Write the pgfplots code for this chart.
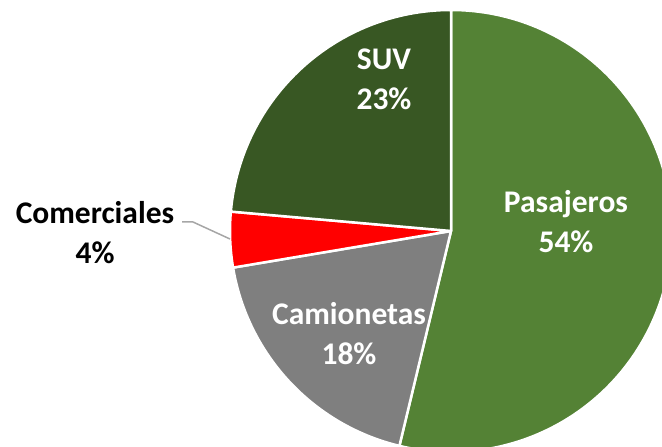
\documentclass[border=0pt]{standalone}
\usepackage{fontspec}
\setmainfont{Carlito}
\usepackage{pgfplots}
\pgfplotsset{compat=1.18}
\definecolor{pasaj}{HTML}{548235}
\definecolor{suv}{HTML}{385723}
\definecolor{camion}{HTML}{7F7F7F}
\definecolor{comer}{HTML}{FF0000}
\definecolor{leader}{HTML}{A6A6A6}
\begin{document}
\begin{tikzpicture}
% shares in percent, clockwise from 12 o'clock
\def\vPas{53.75}\def\vCam{18.6}\def\vCom{4.05}\def\vSuv{23.6}
\pgfmathsetmacro\aA{90}
\pgfmathsetmacro\aB{\aA-3.6*\vPas}
\pgfmathsetmacro\aC{\aB-3.6*\vCam}
\pgfmathsetmacro\aD{\aC-3.6*\vCom}
\pgfmathsetmacro\aE{\aD-3.6*\vSuv}
\begin{axis}[
  scale only axis, width=662pt, height=447pt,
  xmin=0, xmax=662, ymin=0, ymax=447,
  hide axis, clip=true,
]
\path (rel axis cs:0,0) rectangle (rel axis cs:1,1);
\begin{scope}[draw=white, line width=2.5pt, line join=round]
\filldraw[fill=pasaj] (axis cs:451,216) -- ++(\aA:221pt) arc[start angle=\aA, end angle=\aB, radius=221pt] -- cycle;
\filldraw[fill=camion] (axis cs:451,216) -- ++(\aB:221pt) arc[start angle=\aB, end angle=\aC, radius=221pt] -- cycle;
\filldraw[fill=comer] (axis cs:451,216) -- ++(\aC:221pt) arc[start angle=\aC, end angle=\aD, radius=221pt] -- cycle;
\filldraw[fill=suv] (axis cs:451,216) -- ++(\aD:221pt) arc[start angle=\aD, end angle=\aE, radius=221pt] -- cycle;
\end{scope}
\draw[leader, line width=1.5pt] (axis cs:182,225) -- (axis cs:193,225) -- (axis cs:230,208);
\begin{scope}[every node/.style={font=\fontsize{31.5}{40}\selectfont\bfseries, align=center}]
\node[white] at (axis cs:566,225) {Pasajeros\\54\%};
\node[white] at (axis cs:384,368) {SUV\\23\%};
\node[white] at (axis cs:349,113) {Camionetas\\18\%};
\node[black] at (axis cs:95,214) {Comerciales\\4\%};
\end{scope}
\end{axis}
\end{tikzpicture}
\end{document}
